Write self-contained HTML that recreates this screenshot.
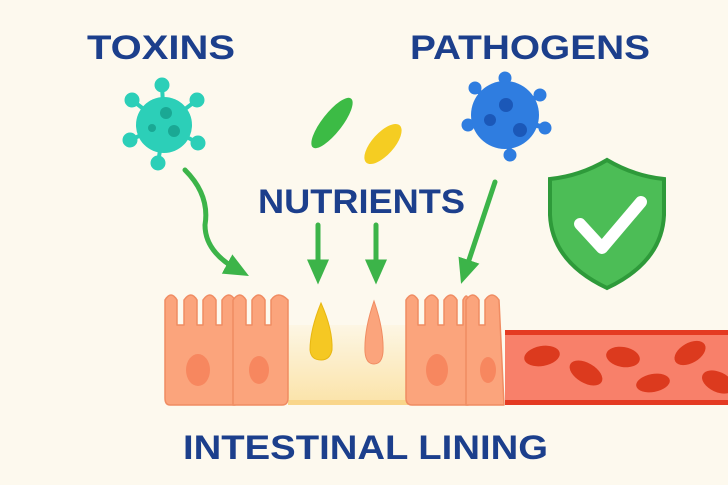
<!DOCTYPE html><html><head><style>body{margin:0;background:#fdf9ee}svg{display:block}text{font-family:"Liberation Sans",sans-serif;font-weight:bold;fill:#1c3f8c}</style></head><body>
<svg width="728" height="485" viewBox="0 0 728 485">
<defs>
<linearGradient id="g" x1="0" y1="0" x2="0" y2="1"><stop offset="0" stop-color="#fdf6e4"/><stop offset="1" stop-color="#fbe3a8"/></linearGradient>
<marker id="a" markerWidth="5" markerHeight="5" refX="2.5" refY="2.5" orient="auto" markerUnits="strokeWidth"><path d="M0,0.3 L5,2.5 L0,4.7 z" fill="#3cb449"/></marker>
</defs>
<rect width="728" height="485" fill="#fdf9ee"/>
<text x="87" y="59" font-size="34" textLength="148" lengthAdjust="spacingAndGlyphs">TOXINS</text>
<text x="410" y="59" font-size="34" textLength="240" lengthAdjust="spacingAndGlyphs">PATHOGENS</text>
<text x="258" y="213" font-size="34" textLength="207" lengthAdjust="spacingAndGlyphs">NUTRIENTS</text>
<text x="183" y="459" font-size="34" textLength="365" lengthAdjust="spacingAndGlyphs">INTESTINAL LINING</text>
<!-- teal virus -->
<g fill="#2ccfb8" stroke="#2ccfb8">
<g stroke-width="4"><line x1="164" y1="125" x2="162" y2="85"/><line x1="164" y1="125" x2="197" y2="100"/><line x1="164" y1="125" x2="198" y2="143"/><line x1="164" y1="125" x2="158" y2="163"/><line x1="164" y1="125" x2="130" y2="140"/><line x1="164" y1="125" x2="132" y2="100"/></g>
<circle cx="162" cy="85" r="7"/><circle cx="197" cy="100" r="7"/><circle cx="198" cy="143" r="7"/><circle cx="158" cy="163" r="7"/><circle cx="130" cy="140" r="7"/><circle cx="132" cy="100" r="7"/>
<circle cx="164" cy="125" r="28" stroke="none"/></g>
<circle cx="166" cy="113" r="6" fill="#1aa894"/><circle cx="174" cy="131" r="6" fill="#1aa894"/><circle cx="152" cy="128" r="4" fill="#1aa894"/>
<!-- blue virus -->
<g fill="#2f7de0" stroke="#2f7de0">
<g stroke-width="5"><line x1="505" y1="115" x2="505" y2="78"/><line x1="505" y1="115" x2="540" y2="95"/><line x1="505" y1="115" x2="545" y2="128"/><line x1="505" y1="115" x2="510" y2="155"/><line x1="505" y1="115" x2="468" y2="125"/><line x1="505" y1="115" x2="475" y2="88"/></g>
<circle cx="505" cy="78" r="6"/><circle cx="540" cy="95" r="6"/><circle cx="545" cy="128" r="6"/><circle cx="510" cy="155" r="6"/><circle cx="468" cy="125" r="6"/><circle cx="475" cy="88" r="6"/>
<circle cx="505" cy="115" r="34" stroke="none"/></g>
<circle cx="506" cy="105" r="7" fill="#1b58b8"/><circle cx="520" cy="130" r="7" fill="#1b58b8"/><circle cx="490" cy="120" r="6" fill="#1b58b8"/>
<!-- beans -->
<ellipse cx="332" cy="123" rx="10" ry="31" transform="rotate(38 332 123)" fill="#3cbb45"/>
<ellipse cx="383" cy="144" rx="11" ry="25" transform="rotate(42 383 144)" fill="#f5cd22"/>
<!-- shield -->
<path d="M607,160 Q580,176 550,179 L550,215 Q552,262 607,288 Q662,262 664,215 L664,179 Q634,176 607,160z" fill="#4cbd56" stroke="#2e9a3a" stroke-width="4"/>
<path d="M580,224 L602,248 L641,202" fill="none" stroke="#fff" stroke-width="12" stroke-linecap="round" stroke-linejoin="round"/>
<!-- arrows -->
<g fill="none" stroke="#3cb449" stroke-width="5" stroke-linecap="round">
<path d="M185,170 Q210,195 205,225 Q205,252 238,270" marker-end="url(#a)"/>
<path d="M318,225 L318,272" marker-end="url(#a)"/>
<path d="M376,225 L376,272" marker-end="url(#a)"/>
<path d="M495,182 L465,272" marker-end="url(#a)"/>
</g>
<!-- gap -->
<rect x="288" y="325" width="120" height="80" fill="url(#g)"/>
<rect x="288" y="400" width="120" height="5" fill="#f9d68a"/>
<!-- cells -->
<g fill="#fba47c" stroke="#f08c62" stroke-width="1.5" stroke-linejoin="round">
<path d="M170,405 Q165,405 165,398 L165,300 Q171,290 177,300 L177,325 L184,325 L184,300 Q191,290 197,300 L197,325 L203,325 L203,300 Q210,290 216,300 L216,325 L222,325 L222,300 Q229,290 235,300 L235,405 z"/>
<path d="M233,405 L233,300 Q240,290 246,300 L246,325 L252,325 L252,300 Q259,290 265,300 L265,325 L271,325 L271,300 Q278,290 288,300 L288,398 Q288,405 282,405 z"/>
<path d="M412,405 Q406,405 406,398 L406,300 Q412,290 418,300 L418,325 L425,325 L425,300 Q432,290 438,300 L438,325 L444,325 L444,300 Q451,290 457,300 L457,325 L463,325 L463,300 Q467,292 468,300 L468,405 z"/>
<path d="M466,405 L466,300 Q473,290 479,300 L479,325 L485,325 L485,300 Q492,290 499,300 L504,405 z"/>
</g>
<g fill="#f7875f"><ellipse cx="198" cy="370" rx="12" ry="16"/><ellipse cx="259" cy="370" rx="10" ry="14"/><ellipse cx="437" cy="370" rx="11" ry="16"/><ellipse cx="488" cy="370" rx="8" ry="13"/></g>
<!-- drops -->
<path d="M321,303 Q333,330 332,350 Q330,360 321,360 Q311,360 310,350 Q310,330 321,303z" fill="#f5c823" stroke="#e8b712"/>
<path d="M374,301 Q384,330 383,352 Q382,364 374,364 Q366,364 365,352 Q364,330 374,301z" fill="#fba47c" stroke="#f08c62"/>
<!-- blood vessel -->
<rect x="505" y="330" width="223" height="75" fill="#f8806a"/>
<rect x="505" y="330" width="223" height="5" fill="#e43a22"/>
<rect x="505" y="400" width="223" height="5" fill="#e43a22"/>
<g fill="#dc3a1e">
<ellipse cx="542" cy="356" rx="18" ry="10" transform="rotate(-10 542 356)"/>
<ellipse cx="586" cy="373" rx="18" ry="10" transform="rotate(30 586 373)"/>
<ellipse cx="623" cy="357" rx="17" ry="10" transform="rotate(10 623 357)"/>
<ellipse cx="653" cy="383" rx="17" ry="9" transform="rotate(-10 653 383)"/>
<ellipse cx="690" cy="353" rx="17" ry="10" transform="rotate(-30 690 353)"/>
<ellipse cx="718" cy="382" rx="17" ry="10" transform="rotate(25 718 382)"/>
</g>
</svg></body></html>
